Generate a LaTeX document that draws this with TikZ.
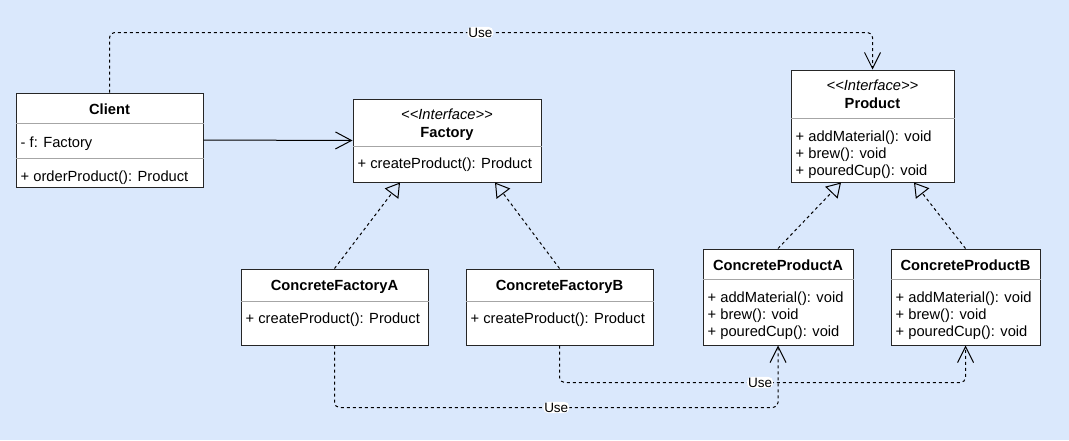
\documentclass[tikz,border=0pt]{standalone}
\usepackage{fontspec}
\setmainfont{Liberation Sans}
\usetikzlibrary{arrows.meta,calc}
\definecolor{bgblue}{RGB}{218,232,252}
\tikzset{
  umlbox/.style={draw=black!85, fill=white, line width=1pt, inner sep=0pt},
  sepline/.style={draw=black!35, line width=1pt},
  member/.style={anchor=west, inner sep=0pt, align=left, yshift=-2pt,
    font=\fontsize{14.7}{17}\selectfont},
  classname/.style={inner sep=0pt, yshift=-2pt, font=\fontsize{14.7}{17}\selectfont\bfseries},
  stereo/.style={inner sep=0pt, yshift=-2pt, font=\fontsize{14.7}{17}\selectfont\itshape},
  assoc/.style={line width=1pt, -{Straight Barb[length=16pt,width=17pt,line width=1pt]}},
  realize/.style={line width=1pt, dash pattern=on 3pt off 3pt,
    -{Triangle[open,length=14pt,width=17pt,line width=1pt]}},
  uses/.style={line width=1pt, dash pattern=on 3pt off 3pt, rounded corners=5pt,
    -{Straight Barb[length=16pt,width=16pt,line width=1pt]}},
  uselabel/.style={fill=white, inner sep=1pt, font=\fontsize{13.5}{15}\selectfont}
}
\newcommand{\interfacetag}{<\kern0pt<Interface>\kern0pt>}
\begin{document}
\begin{tikzpicture}[x=1pt,y=-1pt]
	%%%%% background %%%%%
	\fill[bgblue] (0,0) rectangle (1069,440);
	\useasboundingbox (0,0) rectangle (1069,440);
	
	%%%%% Client %%%%%
	\node[umlbox, minimum width=187pt, minimum height=94pt] (client) at (109.5,140) {};
	\node[classname] (clientname) at ([yshift=-15pt]client.north) {Client};
	\draw[sepline] ([yshift=-31pt]client.north west) -- ([yshift=-31pt]client.north east);
	\node[member] (clientattr) at ([xshift=5pt,yshift=-49pt]client.north west) {- f: Factory};
	\draw[sepline] ([yshift=-66pt]client.north west) -- ([yshift=-66pt]client.north east);
	\node[member] (clientops) at ([xshift=5pt,yshift=-83pt]client.north west) {+ orderProduct(): Product};
	
	%%%%% Factory %%%%%
	\node[umlbox, minimum width=188pt, minimum height=83pt] (factory) at (447,140.5) {};
	\node[stereo] (factorystereo) at ([yshift=-14pt]factory.north) {\interfacetag};
	\node[classname] (factoryname) at ([yshift=-33pt]factory.north) {Factory};
	\draw[sepline] ([yshift=-48pt]factory.north west) -- ([yshift=-48pt]factory.north east);
	\node[member] (factoryops) at ([xshift=5pt,yshift=-64pt]factory.north west) {+ createProduct(): Product};
	
	%%%%% Product %%%%%
	\node[umlbox, minimum width=163pt, minimum height=112pt] (product) at (872.5,126) {};
	\node[stereo] (productstereo) at ([yshift=-14pt]product.north) {\interfacetag};
	\node[classname] (productname) at ([yshift=-32pt]product.north) {Product};
	\draw[sepline] ([yshift=-49pt]product.north west) -- ([yshift=-49pt]product.north east);
	\node[member] (productops) at ([xshift=5pt,yshift=-83pt]product.north west)
		{+ addMaterial(): void\\+ brew(): void\\+ pouredCup(): void};
	
	%%%%% concrete factories %%%%%
	\node[umlbox, minimum width=187pt, minimum height=76pt] (cfa) at (334.5,307) {};
	\node[classname] (cfaname) at ([yshift=-16pt]cfa.north) {ConcreteFactoryA};
	\draw[sepline] ([yshift=-33pt]cfa.north west) -- ([yshift=-33pt]cfa.north east);
	\node[member] (cfaops) at ([xshift=5pt,yshift=-49pt]cfa.north west) {+ createProduct(): Product};
	
	\node[umlbox, minimum width=187pt, minimum height=76pt] (cfb) at (559.5,307) {};
	\node[classname] (cfbname) at ([yshift=-16pt]cfb.north) {ConcreteFactoryB};
	\draw[sepline] ([yshift=-33pt]cfb.north west) -- ([yshift=-33pt]cfb.north east);
	\node[member] (cfbops) at ([xshift=5pt,yshift=-49pt]cfb.north west) {+ createProduct(): Product};
	
	%%%%% concrete products %%%%%
	\node[umlbox, minimum width=150pt, minimum height=96pt] (cpa) at (778,297) {};
	\node[classname] (cpaname) at ([yshift=-15pt]cpa.north) {ConcreteProductA};
	\draw[sepline] ([yshift=-31pt]cpa.north west) -- ([yshift=-31pt]cpa.north east);
	\node[member] (cpaops) at ([xshift=5pt,yshift=-65pt]cpa.north west)
		{+ addMaterial(): void\\+ brew(): void\\+ pouredCup(): void};
	
	\node[umlbox, minimum width=149pt, minimum height=96pt] (cpb) at (965.5,297) {};
	\node[classname] (cpbname) at ([yshift=-15pt]cpb.north) {ConcreteProductB};
	\draw[sepline] ([yshift=-31pt]cpb.north west) -- ([yshift=-31pt]cpb.north east);
	\node[member] (cpbops) at ([xshift=5pt,yshift=-65pt]cpb.north west)
		{+ addMaterial(): void\\+ brew(): void\\+ pouredCup(): void};
	
	%%%%% connectors %%%%%
	\draw[assoc] (client.east) -- (factory.west);
	
	\draw[realize] (cfa.north) -- ([xshift=-47pt]factory.south);
	\draw[realize] (cfb.north) -- ([xshift=48pt]factory.south);
	\draw[realize] (cpa.north) -- ([xshift=-31.5pt]product.south);
	\draw[realize] (cpb.north) -- ([xshift=41.5pt]product.south);
	
	\draw[uses] (client.north) -- ++(0,-60) -| (product.north)
		node[uselabel, pos=0.243] (usetop) {Use};
	\draw[uses] (cfb.south) -- ++(0,37) -| (cpb.south)
		node[uselabel, pos=0.247] (usemid) {Use};
	\draw[uses] (cfa.south) -- ++(0,62) -| (cpa.south)
		node[uselabel, pos=0.25] (uselow) {Use};
	
	%%%%% END %%%%%
\end{tikzpicture}
\end{document}
